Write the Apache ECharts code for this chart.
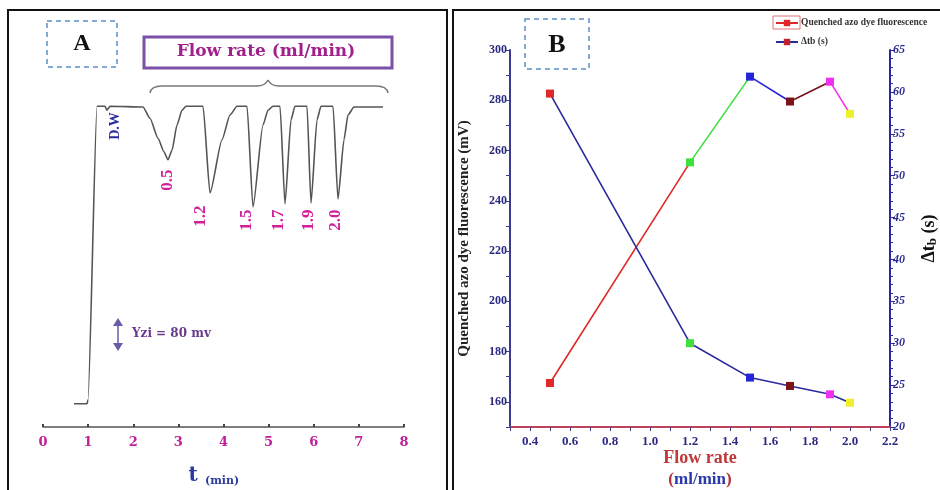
<!DOCTYPE html>
<html>
<head>
<meta charset="utf-8">
<script src="https://cdn.jsdelivr.net/npm/echarts@6/dist/echarts.min.js"></script>
<style>html,body{margin:0;padding:0;background:#fff;}#c{width:940px;height:490px;}</style>
</head>
<body>
<div id="c"></div>
<script>
// ---- Panel A: FIA signal trace (time in min, signal in mV) ----
var traceT  = [0.687,0.975,0.997,1.197,1.374,1.418,1.485,2.216,2.371,2.548,2.681,2.770,2.859,2.970,3.080,3.169,3.546,3.701,3.967,4.144,4.299,4.521,4.654,4.875,4.986,5.097,5.252,5.363,5.496,5.584,5.850,5.939,6.072,6.161,6.427,6.537,6.670,6.759,6.892,7.535];
var traceMV = [58,58,68,802,802,792,802,800,772,722,688,668,692,755,792,802,802,585,718,780,802,802,550,755,792,802,802,558,768,802,802,560,768,802,802,570,718,780,800,800];
var timeTicks = [0,1,2,3,4,5,6,7,8];

// ---- Panel B ----
var flowRate = [0.5,1.2,1.5,1.7,1.9,2.0];
var quenchedFluor = [167.5,255.3,289.4,279.5,287.4,274.6];
var deltaTb = [59.8,30.0,25.9,24.9,23.9,22.9];
var pointColors = ['#e02828','#3ee03e','#2424d8','#7a1418','#f030f0','#f0f028'];
var peakLabels = ['0.5','1.2','1.5','1.7','1.9','2.0'];

var chart = echarts.init(document.getElementById('c'));
var serif = 'Liberation Serif';
var wide = 'DejaVu Serif';

var traceData = traceT.map(function(t,i){return [t, traceMV[i]];});
var fluorData = flowRate.map(function(x,i){return [x, quenchedFluor[i]];});
var dtbData = flowRate.map(function(x,i){return {value:[x, deltaTb[i]], itemStyle:{color:pointColors[i]}};});

var pieces = [];
for (var i=0;i<flowRate.length;i++){
  var p = {gte: flowRate[i] - (i===0?0.2:0), color: pointColors[i]};
  if (i < flowRate.length-1) p.lt = flowRate[i+1]; else p.lte = flowRate[i] + 0.2;
  pieces.push(p);
}

// peak label pixel positions (annotation placement)
var peakLabelPos = [[168,180],[201,216],[247,220],[279,220],[309,220],[336,220]];

var braceStyle = {fill:'none',stroke:'#777',lineWidth:1.5};
var graphics = [
  // panel borders
  {type:'rect', shape:{x:8,y:10,width:439,height:490}, style:{fill:'none',stroke:'#111',lineWidth:2}, silent:true},
  {type:'rect', shape:{x:453,y:10,width:500,height:490}, style:{fill:'none',stroke:'#111',lineWidth:2}, silent:true},
  // Panel A label box
  {type:'rect', shape:{x:47,y:21,width:70,height:46}, style:{fill:'none',stroke:'#5a8fc8',lineWidth:1.5,lineDash:[5,4]}},
  {type:'text', x:82, y:44, style:{text:'A', font:'bold 24px "'+serif+'"', fill:'#111', align:'center', verticalAlign:'middle'}},
  // Flow rate box
  {type:'rect', shape:{x:144,y:37,width:248,height:31}, style:{fill:'none',stroke:'#7a50a8',lineWidth:3}},
  {type:'text', x:266, y:52, style:{text:'Flow rate (ml/min)', font:'bold 17px "'+wide+'"', fill:'#a0208c', align:'center', verticalAlign:'middle'}},
  // brace
  {type:'bezierCurve', shape:{x1:150,y1:93,cpx1:151,cpy1:86,x2:162,y2:86}, style:braceStyle},
  {type:'line', shape:{x1:162,y1:86,x2:257,y2:86}, style:braceStyle},
  {type:'bezierCurve', shape:{x1:257,y1:86,cpx1:265,cpy1:86,x2:268,y2:80}, style:braceStyle},
  {type:'bezierCurve', shape:{x1:268,y1:80,cpx1:271,cpy1:86,x2:279,y2:86}, style:braceStyle},
  {type:'line', shape:{x1:279,y1:86,x2:376,y2:86}, style:braceStyle},
  {type:'bezierCurve', shape:{x1:376,y1:86,cpx1:387,cpy1:86,x2:388,y2:93}, style:braceStyle},
  // D.W label
  {type:'text', x:115, y:126, rotation:Math.PI/2, style:{text:'D.W', font:'bold 14px "'+serif+'"', fill:'#2a2aa0', align:'center', verticalAlign:'middle'}},
  // y scale arrow
  {type:'line', shape:{x1:118,y1:324,x2:118,y2:345}, style:{stroke:'#6a5aa8',lineWidth:1.5}},
  {type:'polygon', shape:{points:[[113,326],[123,326],[118,318]]}, style:{fill:'#6a5aa8'}},
  {type:'polygon', shape:{points:[[113,343],[123,343],[118,351]]}, style:{fill:'#6a5aa8'}},
  {type:'text', x:132, y:334, style:{text:'Yzi = 80 mv', font:'bold 12px "'+wide+'"', fill:'#6a3a8c', verticalAlign:'middle'}},
  // t (min)
  {type:'text', x:193, y:476, style:{text:'t', font:'bold 20px "'+wide+'"', fill:'#2a3aa0', align:'center', verticalAlign:'middle'}},
  {type:'text', x:205, y:481, style:{text:'(min)', font:'bold 11px "'+wide+'"', fill:'#2a3aa0', verticalAlign:'middle'}},
  // Panel B label box
  {type:'rect', shape:{x:525,y:19,width:64,height:50}, style:{fill:'none',stroke:'#5a8fc8',lineWidth:1.5,lineDash:[5,4]}},
  {type:'text', x:557, y:45, style:{text:'B', font:'bold 26px "'+serif+'"', fill:'#111', align:'center', verticalAlign:'middle'}},
  // x-axis name B
  {type:'text', x:700, y:458, style:{text:'Flow rate', font:'bold 18px "'+serif+'"', fill:'#c03838', align:'center', verticalAlign:'middle'}},
  {type:'text', x:700, y:480, style:{text:'{r|(}{b|ml/min}{r|)}', align:'center', verticalAlign:'middle',
     rich:{r:{font:'bold 17px "'+serif+'"', fill:'#b03040'}, b:{font:'bold 17px "'+serif+'"', fill:'#2a3aa8'}}}},
  // legend frame around first icon
  {type:'rect', shape:{x:773,y:16,width:27,height:13}, style:{fill:'none',stroke:'#e07070',lineWidth:1}}
];
peakLabels.forEach(function(s,i){
  graphics.push({type:'text', x:peakLabelPos[i][0], y:peakLabelPos[i][1], rotation:Math.PI/2,
    style:{text:s, font:'bold 17px "'+serif+'"', fill:'#d0209a', align:'center', verticalAlign:'middle'}});
});

var option = {
  backgroundColor:'#fff',
  animation:false,
  grid:[
    {left:43, right:536, top:27, bottom:63},
    {left:510, right:48, top:50, bottom:63}
  ],
  legend:{
    orient:'vertical', left:775, top:18, padding:0, itemGap:9, itemWidth:22, itemHeight:8,
    textStyle:{fontFamily:serif, fontWeight:'bold', fontSize:9.5, color:'#333', padding:[0,0,0,-2]},
    data:[
      {name:'Quenched azo dye fluorescence', itemStyle:{color:'#e02828'}, lineStyle:{color:'#e02828'}},
      {name:'Δtb (s)', itemStyle:{color:'#c02030'}, lineStyle:{color:'#2a2a9a'}}
    ]
  },
  visualMap:{type:'piecewise', show:false, seriesIndex:1, dimension:0, pieces:pieces},
  xAxis:[
    {gridIndex:0, type:'value', min:0, max:8, interval:1,
     axisLine:{lineStyle:{color:'#555',width:1.5}},
     axisTick:{show:true, inside:true, length:3, lineStyle:{color:'#444',width:2}},
     axisLabel:{color:'#c0209a', fontFamily:wide, fontWeight:'bold', fontSize:13, margin:9},
     splitLine:{show:false}},
    {gridIndex:1, type:'value', min:0.3, max:2.2, interval:0.1,
     axisLine:{onZero:false, lineStyle:{color:'#c04060',width:2}},
     axisTick:{length:4, lineStyle:{color:'#404080',width:1}},
     axisLabel:{color:'#2a2a80', fontFamily:serif, fontWeight:'bold', fontSize:13, margin:8,
       formatter:function(v){var k=Math.round(v*10); return (k%2===0)?(k/10).toFixed(1):'';}},
     splitLine:{show:false}}
  ],
  yAxis:[
    {gridIndex:0, type:'value', min:0, max:1000, show:false},
    {gridIndex:1, type:'value', position:'left', min:150, max:300, interval:10,
     name:'Quenched azo dye fluorescence (mV)', nameLocation:'middle', nameGap:38, nameRotate:90,
     nameTextStyle:{fontFamily:serif, fontWeight:'bold', fontSize:15, color:'#222'},
     axisLine:{show:true, onZero:false, lineStyle:{color:'#3a3a90',width:2}},
     axisTick:{show:true, length:4, lineStyle:{color:'#3a3a90'}},
     axisLabel:{color:'#2a2a80', fontFamily:serif, fontWeight:'bold', fontSize:12, margin:3,
       formatter:function(v){return ((Math.round(v)-160)%20===0)?String(Math.round(v)):'';}},
     splitLine:{show:false}},
    {gridIndex:1, type:'value', position:'right', min:20, max:65, interval:5,
     name:'{a|Δt}{s|b}{a| (s)}', nameLocation:'middle', nameGap:30, nameRotate:90,
     nameTextStyle:{rich:{a:{fontFamily:serif, fontWeight:'bold', fontSize:18, color:'#111'},
                          s:{fontFamily:serif, fontWeight:'bold', fontSize:13, color:'#111', verticalAlign:'bottom', padding:[6,0,0,0]}}},
     axisLine:{show:true, onZero:false, lineStyle:{color:'#2a2aa0',width:2}},
     axisTick:{show:true, length:5, lineStyle:{color:'#2a2aa0'}},
     minorTick:{show:true, splitNumber:5, length:3, lineStyle:{color:'#2a2aa0'}},
     axisLabel:{color:'#2a2a90', fontFamily:serif, fontWeight:'bold', fontStyle:'italic', fontSize:12, margin:3},
     splitLine:{show:false}}
  ],
  series:[
    {type:'line', xAxisIndex:0, yAxisIndex:0, data:traceData, showSymbol:false, symbol:'none',
     smooth:0.2, smoothMonotone:'x', lineStyle:{color:'#555', width:1.6}, silent:true},
    {name:'Quenched azo dye fluorescence', type:'line', xAxisIndex:1, yAxisIndex:1, data:fluorData,
     symbol:'rect', symbolSize:8, lineStyle:{width:1.6}, itemStyle:{color:'#e02828'}, z:3},
    {name:'Δtb (s)', type:'line', xAxisIndex:1, yAxisIndex:2, data:dtbData,
     symbol:'rect', symbolSize:8, lineStyle:{width:1.6, color:'#2a2a9a'}, itemStyle:{color:'#c02030'}, z:3}
  ],
  graphic:graphics
};
chart.setOption(option);
</script>
</body>
</html>
